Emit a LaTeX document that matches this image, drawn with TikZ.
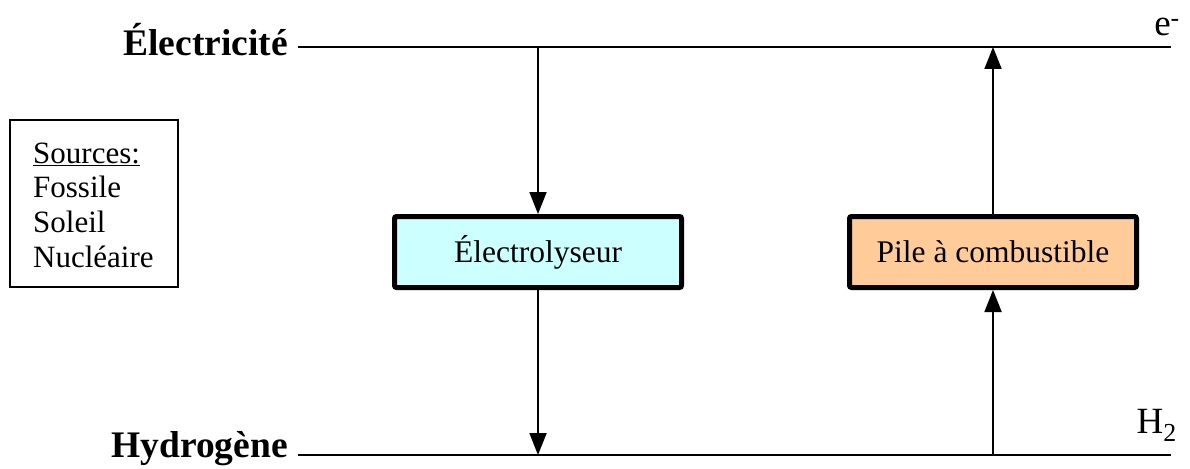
\documentclass[tikz,border=0pt]{standalone}
\usepackage{fontspec}
\setmainfont{Liberation Serif}
\usetikzlibrary{arrows.meta}
\definecolor{elecfill}{HTML}{CCFFFF}
\definecolor{pilefill}{HTML}{FFCC99}
\tikzset{
  level/.style={line width=1.6pt},
  arr/.style={line width=1.8pt,-{Triangle[length=22pt,width=17pt]}},
  device/.style={draw,line width=5pt,rounded corners=2pt,minimum width=287pt,minimum height=71pt,inner sep=0pt,font=\fontsize{31.5}{36}\selectfont},
  biglabel/.style={font=\fontsize{37.5}{42}\selectfont\bfseries,inner sep=0pt},
  reglabel/.style={font=\fontsize{31}{36}\selectfont,inner sep=0pt},
  endlabel/.style={font=\fontsize{37}{42}\selectfont,inner sep=0pt},
}
\begin{document}
\begin{tikzpicture}[x=1pt,y=-1pt]
\useasboundingbox (0,0) rectangle (1190,468);
% levels
\coordinate (tl) at (298,47);
\coordinate (tr) at (1171,47);
\coordinate (bl) at (298,455);
\coordinate (br) at (1171,455);
\draw[level] (tl) -- (tr);
\draw[level] (bl) -- (br);
\node[biglabel,anchor=base east] (elecl) at (288,56) {Électricité};
\node[biglabel,anchor=base east] (hydl) at (288,457) {Hydrogène};
\node[endlabel,anchor=base east] (em) at (1180,36) {e\textsuperscript{-}};
\node[endlabel,anchor=base east] (h2) at (1177,433) {H\textsubscript{2}};
% devices
\node[device,fill=elecfill] (elec) at (538,252) {Électrolyseur};
\node[device,fill=pilefill] (pile) at (993,252) {Pile à combustible};
\coordinate (et) at (538,47);
\coordinate (eb) at (538,455);
\coordinate (pt) at (993,47);
\coordinate (pb) at (993,455);
\draw[arr] (et) -- (elec.north);
\draw[arr] (elec.south) -- (eb);
\draw[arr] (pb) -- (pile.south);
\draw[arr] (pile.north) -- (pt);
% sources
\node[draw,line width=1.4pt,minimum width=168pt,minimum height=167pt,inner sep=0pt] (src) at (94,203.5) {};
\node[reglabel,anchor=base west] (srct) at (33,163) {\underline{Sources:}};
\node[reglabel,anchor=base west] (s1) at (33,197) {Fossile};
\node[reglabel,anchor=base west] (s2) at (33,232) {Soleil};
\node[reglabel,anchor=base west] (s3) at (33,267) {Nucléaire};
\end{tikzpicture}
\end{document}
